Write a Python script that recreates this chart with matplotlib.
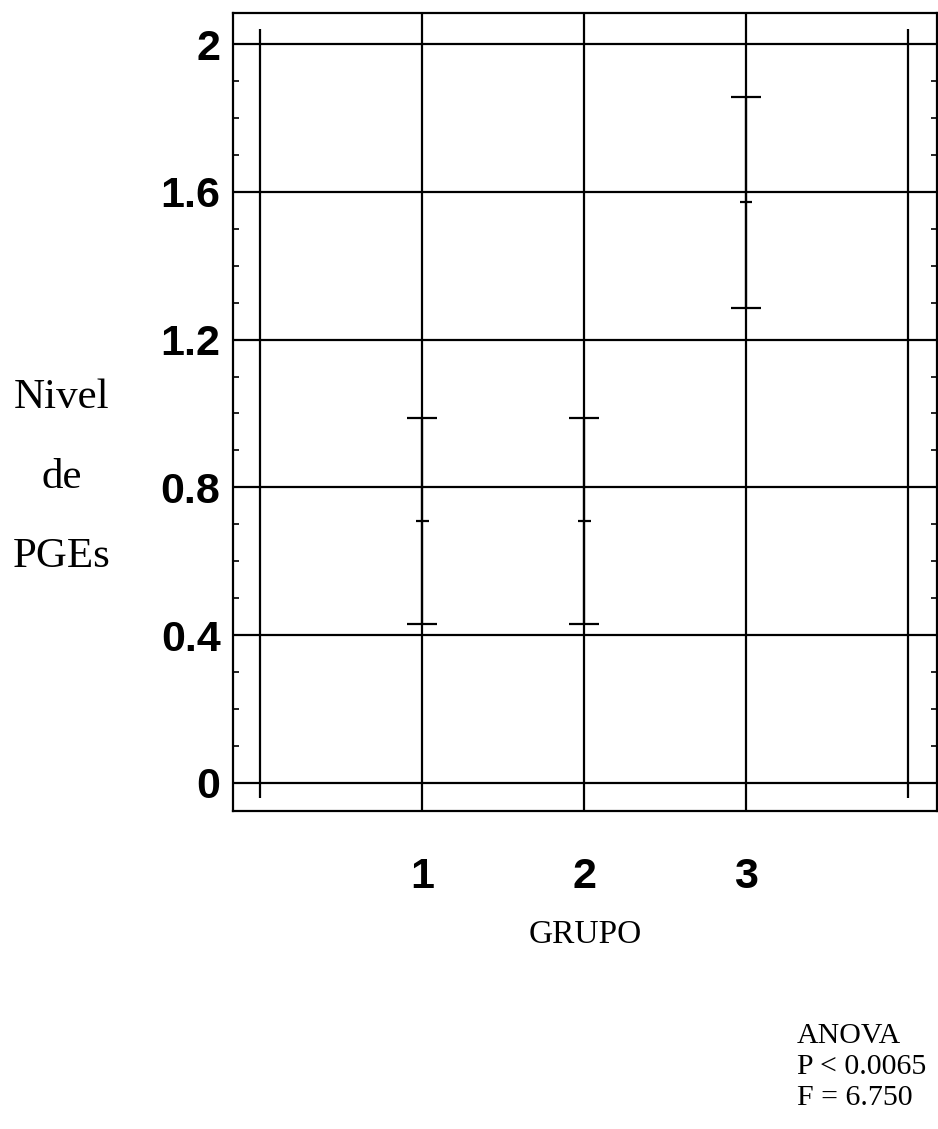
import numpy as np
import matplotlib
matplotlib.use("Agg")
import matplotlib.pyplot as plt
from matplotlib.ticker import MultipleLocator

# datos
grupos = [1, 2, 3]
medias = [0.71, 0.71, 1.572]
sup = [0.988, 0.988, 1.857]
inf = [0.43, 0.43, 1.286]
yticks = [0, 0.4, 0.8, 1.2, 1.6, 2]
ytick_labels = ["0", "0.4", "0.8", "1.2", "1.6", "2"]
xtick_labels = ["1", "2", "3"]
anova_txt = ["ANOVA", "P < 0.0065", "F = 6.750"]

fig = plt.figure(figsize=(9.38, 11.29), dpi=100)
ax = fig.add_axes([233 / 938, 1 - 811 / 1129, 704 / 938, 798 / 1129])

ax.set_xlim(-0.167, 4.179)
ax.set_ylim(-0.076, 2.084)

lw = 1.6
# rejilla
for y in yticks:
    ax.axhline(y, color="black", lw=lw, zorder=1)
for x in grupos:
    ax.axvline(x, color="black", lw=lw, zorder=1)
ax.vlines([0, 4], -0.04, 2.04, color="black", lw=lw, zorder=1)

# barras de error: extremos y media
ax.vlines(grupos, inf, sup, color="black", lw=lw, zorder=2)
g = np.array(grupos)
ax.hlines(sup, g - 0.095, g + 0.095, color="black", lw=lw, zorder=2)
ax.hlines(inf, g - 0.095, g + 0.095, color="black", lw=lw, zorder=2)
ax.hlines(medias, g - 0.04, g + 0.04, color="black", lw=lw, zorder=2)

for s in ax.spines.values():
    s.set_linewidth(lw)
    s.set_color("black")

bold = dict(family="Liberation Sans", weight="bold", size=31)
ax.set_yticks(yticks)
ax.set_yticklabels(ytick_labels, fontdict=bold)
ax.set_xticks(grupos)
ax.set_xticklabels(xtick_labels, fontdict=bold)
ax.yaxis.set_minor_locator(MultipleLocator(0.1))
ax.tick_params(axis="y", which="major", length=0, pad=9)
ax.tick_params(axis="x", which="major", length=0, pad=33)
ax.tick_params(axis="y", which="minor", direction="in", length=4, width=1.2,
               left=True, right=True)

serif = "Liberation Serif"
ax.set_ylabel("Nivel\nde\nPGEs", family=serif, size=31, rotation=0,
              ha="center", va="center", linespacing=2.4)
ax.yaxis.set_label_coords(-0.243, 0.418)
ax.set_xlabel("GRUPO", family=serif, size=24, va="center")
ax.xaxis.set_label_coords(0.5, -0.155)

for i, t in enumerate(anova_txt):
    fig.text(797 / 938, 1 - (1043 + 31 * i) / 1129, t, family=serif, size=21.5,
             ha="left", va="baseline")

fig.savefig("out.png", dpi=100)
